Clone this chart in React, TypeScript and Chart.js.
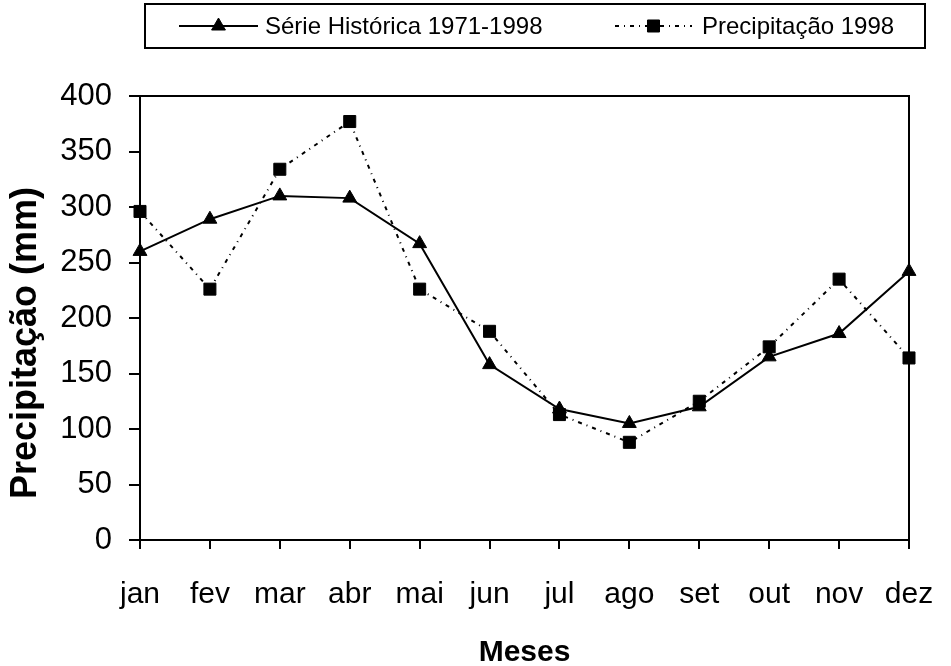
import React, { useEffect, useRef } from 'react';
import { Chart, registerables } from 'chart.js';

Chart.register(...registerables);

const months = ['jan', 'fev', 'mar', 'abr', 'mai', 'jun', 'jul', 'ago', 'set', 'out', 'nov', 'dez'];
const serieHistorica = [260, 289, 310, 308, 267, 158, 118, 105, 120, 165, 186, 242];
const precipitacao1998 = [296, 226, 334, 377, 226, 188, 113, 88, 125, 174, 235, 164];
const seriesLabels = ['Série Histórica 1971-1998', 'Precipitação 1998'];
const yMin = 0;
const yMax = 400;
const yStep = 50;
const yTitle = 'Precipitação (mm)';
const xTitle = 'Meses';

const FONT = '"Liberation Sans", Arial, Helvetica, sans-serif';

function drawMarker(ctx: CanvasRenderingContext2D, style: string, x: number, y: number, r: number) {
  ctx.beginPath();
  if (style === 'triangle') {
    let rad = 0;
    ctx.moveTo(x + Math.sin(rad) * r, y - Math.cos(rad) * r);
    rad += (2 * Math.PI) / 3;
    ctx.lineTo(x + Math.sin(rad) * r, y - Math.cos(rad) * r);
    rad += (2 * Math.PI) / 3;
    ctx.lineTo(x + Math.sin(rad) * r, y - Math.cos(rad) * r);
    ctx.closePath();
  } else {
    const s = Math.SQRT1_2 * r;
    ctx.rect(x - s, y - s, 2 * s, 2 * s);
  }
  ctx.fill();
  ctx.stroke();
}

const framePlugin = {
  id: 'frame',
  beforeDatasetsDraw(chart: any) {
    const { ctx, chartArea } = chart;
    ctx.save();
    ctx.strokeStyle = '#000';
    ctx.lineWidth = 2;
    ctx.strokeRect(chartArea.left, chartArea.top, chartArea.right - chartArea.left, chartArea.bottom - chartArea.top);
    ctx.restore();
  },
};

const legendPlugin = {
  id: 'boxLegend',
  afterDraw(chart: any) {
    const ctx: CanvasRenderingContext2D = chart.ctx;
    ctx.save();
    ctx.strokeStyle = '#000';
    ctx.lineWidth = 2;
    ctx.setLineDash([]);
    ctx.strokeRect(145, 4, 780, 44);
    const y = 26;
    const items = [
      { x0: 179, x1: 258, xt: 265 },
      { x0: 615, x1: 692, xt: 702 },
    ];
    chart.data.datasets.forEach((ds: any, i: number) => {
      const it = items[i];
      ctx.save();
      ctx.setLineDash(ds.borderDash || []);
      ctx.lineWidth = ds.borderWidth;
      ctx.strokeStyle = ds.borderColor;
      ctx.beginPath();
      ctx.moveTo(it.x0, y);
      ctx.lineTo(it.x1, y);
      ctx.stroke();
      ctx.setLineDash([]);
      ctx.fillStyle = ds.pointBackgroundColor;
      ctx.strokeStyle = ds.pointBorderColor;
      ctx.lineWidth = ds.pointBorderWidth;
      drawMarker(ctx, ds.pointStyle, (it.x0 + it.x1) / 2, y, ds.pointRadius);
      ctx.fillStyle = '#000';
      ctx.font = `24px ${FONT}`;
      ctx.textBaseline = 'middle';
      ctx.textAlign = 'left';
      ctx.fillText(ds.label, it.xt, y + 1);
      ctx.restore();
    });
    ctx.restore();
  },
};

export default function App() {
  const canvasRef = useRef<HTMLCanvasElement | null>(null);

  useEffect(() => {
    document.body.style.margin = '0';
    const canvas = canvasRef.current;
    if (!canvas) return;
    const chart = new Chart(canvas, {
      type: 'line',
      data: {
        labels: months,
        datasets: [
          {
            label: seriesLabels[0],
            data: serieHistorica,
            borderColor: '#000',
            backgroundColor: '#000',
            borderWidth: 2,
            pointStyle: 'triangle',
            pointRadius: 8,
            pointBackgroundColor: '#000',
            pointBorderColor: '#000',
            pointBorderWidth: 1,
            tension: 0,
            clip: false,
          },
          {
            label: seriesLabels[1],
            data: precipitacao1998,
            borderColor: '#000',
            backgroundColor: '#000',
            borderWidth: 2,
            borderDash: [4, 5, 1, 5],
            pointStyle: 'rect',
            pointRadius: 8.5,
            pointBackgroundColor: '#000',
            pointBorderColor: '#000',
            pointBorderWidth: 1,
            tension: 0,
            clip: false,
          },
        ],
      } as any,
      options: {
        responsive: false,
        animation: false,
        devicePixelRatio: 1,
        layout: { padding: { top: 96, right: 42, left: 0, bottom: 0 } },
        plugins: {
          legend: { display: false },
          tooltip: { enabled: false },
          title: { display: false },
        },
        scales: {
          x: {
            type: 'category',
            offset: false,
            afterFit: (s: any) => {
              s.height = 126;
              s.paddingLeft = 0;
              s.paddingRight = 0;
            },
            grid: {
              display: true,
              drawOnChartArea: false,
              drawTicks: true,
              tickLength: 9,
              color: '#000',
              lineWidth: 2,
            },
            border: { display: true, color: '#000', width: 2 },
            ticks: {
              color: '#000',
              font: { family: FONT, size: 30 },
              padding: 28,
              autoSkip: false,
              maxRotation: 0,
              minRotation: 0,
            },
            title: {
              display: true,
              text: xTitle,
              color: '#000',
              font: { family: FONT, size: 30, weight: 'bold', lineHeight: 0.9 },
              padding: { top: 0, bottom: 0 },
            },
          },
          y: {
            min: yMin,
            max: yMax,
            afterFit: (s: any) => {
              s.width = 140;
              s.paddingTop = 0;
              s.paddingBottom = 0;
            },
            grid: {
              display: true,
              drawOnChartArea: false,
              drawTicks: true,
              tickLength: 11,
              color: '#000',
              lineWidth: 2,
            },
            border: { display: true, color: '#000', width: 2 },
            ticks: {
              stepSize: yStep,
              color: '#000',
              font: { family: FONT, size: 31 },
              padding: 17,
            },
            title: {
              display: true,
              text: yTitle + '     ',
              color: '#000',
              font: { family: FONT, size: 36, weight: 'bold', lineHeight: 1.2 },
              padding: { top: 4, bottom: 0 },
            },
          },
        },
      } as any,
      plugins: [framePlugin, legendPlugin],
    });
    return () => chart.destroy();
  }, []);

  return (
    <div style={{ width: 951, height: 666 }}>
      <canvas ref={canvasRef} width={951} height={666} style={{ display: 'block' }} />
    </div>
  );
}
